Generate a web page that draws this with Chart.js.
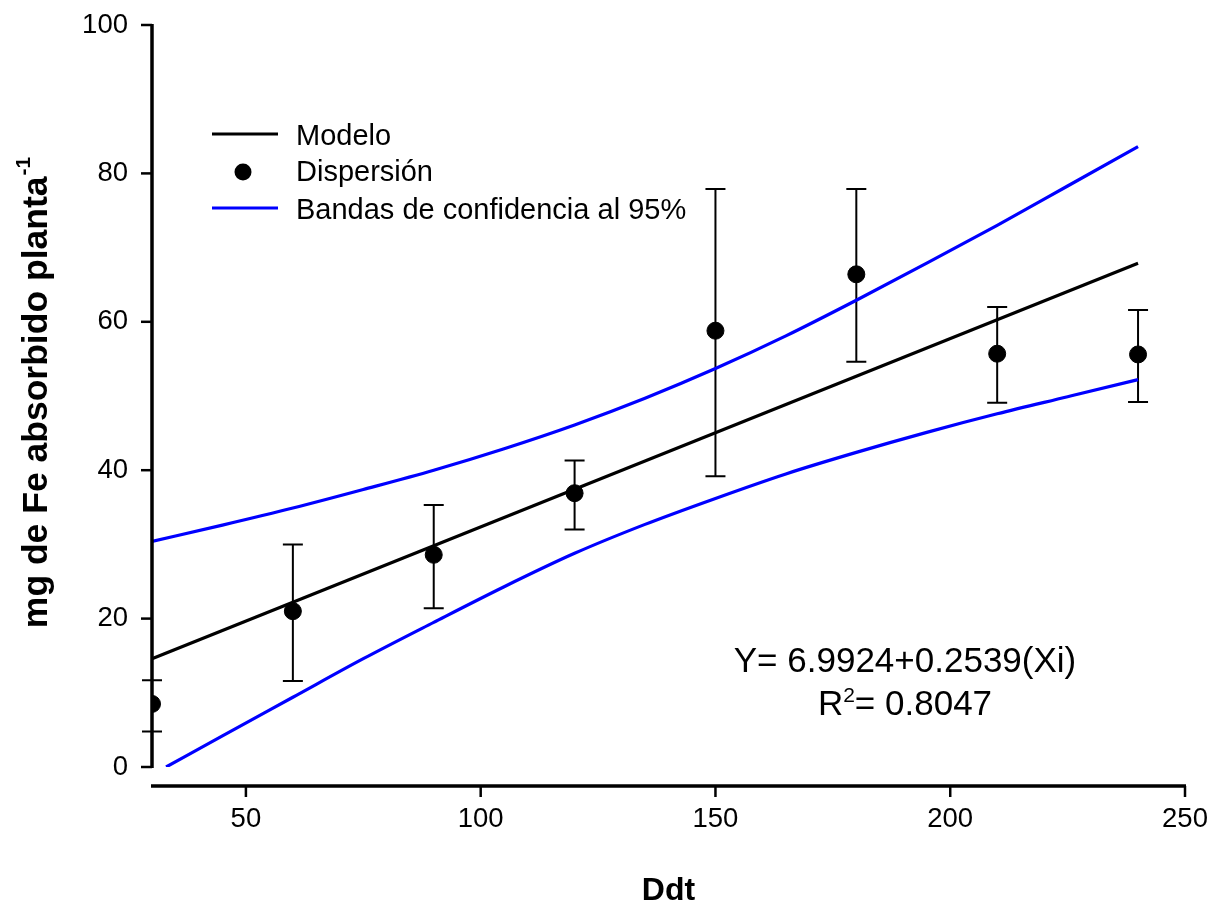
<!DOCTYPE html>
<html>
<head>
<meta charset="utf-8">
<script src="https://cdn.jsdelivr.net/npm/chart.js@4.4.1/dist/chart.umd.min.js"></script>
<style>
html, body { margin: 0; padding: 0; background: #fff; }
#wrap { width: 1213px; height: 906px; position: relative; }
</style>
</head>
<body>
<div id="wrap"><canvas id="chart-fe"></canvas></div>
<script>
// ==================== DATOS ====================
const ddt = [30, 60, 90, 120, 150, 180, 210, 240];
const feMedia = [8.5, 21.0, 28.6, 36.9, 58.8, 66.4, 55.7, 55.6];
const feErrSup = [11.7, 30.0, 35.3, 41.3, 77.9, 77.9, 62.0, 61.6];
const feErrInf = [4.8, 11.6, 21.4, 32.0, 39.2, 54.6, 49.1, 49.2];

const modeloX = [30, 240];
const modeloY = [14.6, 67.9];

const bandaSupX = [30, 45, 60, 75, 90, 105, 120, 135, 150, 165, 180, 195, 210, 225, 240];
const bandaSupY = [30.4, 32.6, 34.9, 37.4, 40.0, 42.9, 46.1, 49.7, 53.7, 58.1, 62.9, 67.9, 73.0, 78.3, 83.6];
const bandaInfX = [33, 45, 60, 75, 90, 105, 120, 135, 150, 165, 180, 195, 210, 225, 240];
const bandaInfY = [0, 4.2, 9.4, 14.6, 19.5, 24.3, 28.8, 32.7, 36.2, 39.5, 42.4, 45.1, 47.6, 49.9, 52.2];

const xTicks = [50, 100, 150, 200, 250];
const yTicks = [0, 20, 40, 60, 80, 100];

const FUENTE = "'Liberation Sans', Arial, sans-serif";
const toXY = (xs, ys) => xs.map((x, i) => ({ x: x, y: ys[i] }));

// ==================== EJES, BARRAS DE ERROR Y TEXTOS ====================
const dibujoExtra = {
    id: 'dibujoExtra',
    beforeDatasetsDraw(chart) {
        const ctx = chart.ctx;
        const sx = chart.scales.x, sy = chart.scales.y;
        ctx.save();
        ctx.strokeStyle = '#000';
        ctx.lineWidth = 2;
        ddt.forEach((x, i) => {
            const px = sx.getPixelForValue(x);
            const top = sy.getPixelForValue(feErrSup[i]);
            const bot = sy.getPixelForValue(feErrInf[i]);
            ctx.beginPath();
            ctx.moveTo(px, top); ctx.lineTo(px, bot);
            ctx.moveTo(px - 10, top); ctx.lineTo(px + 10, top);
            ctx.moveTo(px - 10, bot); ctx.lineTo(px + 10, bot);
            ctx.stroke();
        });
        ctx.restore();
    },
    afterDraw(chart) {
        const ctx = chart.ctx;
        const sx = chart.scales.x, sy = chart.scales.y;
        const area = chart.chartArea;
        ctx.save();
        ctx.strokeStyle = '#000';
        ctx.fillStyle = '#000';

        // eje Y
        const xEje = sx.getPixelForValue(30);
        ctx.lineWidth = 3.5;
        ctx.beginPath();
        ctx.moveTo(xEje, sy.getPixelForValue(100) - 1);
        ctx.lineTo(xEje, sy.getPixelForValue(0) + 1);
        ctx.stroke();
        ctx.lineWidth = 2.5;
        yTicks.forEach(v => {
            const py = sy.getPixelForValue(v);
            ctx.beginPath();
            ctx.moveTo(xEje - 11, py); ctx.lineTo(xEje, py);
            ctx.stroke();
        });

        // eje X
        const yEje = 786;
        ctx.lineWidth = 3.5;
        ctx.beginPath();
        ctx.moveTo(xEje - 1, yEje);
        ctx.lineTo(sx.getPixelForValue(250) + 1, yEje);
        ctx.stroke();
        ctx.lineWidth = 2.5;
        xTicks.forEach(v => {
            const px = sx.getPixelForValue(v);
            ctx.beginPath();
            ctx.moveTo(px, yEje); ctx.lineTo(px, yEje + 11);
            ctx.stroke();
        });

        // título eje X
        ctx.font = 'bold 32px ' + FUENTE;
        ctx.textAlign = 'center';
        ctx.textBaseline = 'alphabetic';
        ctx.fillText('Ddt', (area.left + area.right) / 2, 900);

        // título eje Y con superíndice
        ctx.save();
        ctx.translate(47, 393);
        ctx.rotate(-Math.PI / 2);
        ctx.textAlign = 'left';
        ctx.font = 'bold 35.5px ' + FUENTE;
        const principal = 'mg de Fe absorbido planta';
        const wP = ctx.measureText(principal).width;
        ctx.font = 'bold 21px ' + FUENTE;
        const wS = ctx.measureText('-1').width;
        const x0 = -(wP + wS) / 2;
        ctx.font = 'bold 35.5px ' + FUENTE;
        ctx.fillText(principal, x0, 0);
        ctx.font = 'bold 21px ' + FUENTE;
        ctx.fillText('-1', x0 + wP + 1, -17);
        ctx.restore();

        // leyenda
        ctx.lineWidth = 3;
        ctx.strokeStyle = '#000';
        ctx.beginPath(); ctx.moveTo(212, 134); ctx.lineTo(278, 134); ctx.stroke();
        ctx.beginPath(); ctx.arc(243, 172, 8.5, 0, Math.PI * 2); ctx.fill();
        ctx.strokeStyle = '#0000ff';
        ctx.beginPath(); ctx.moveTo(212, 208); ctx.lineTo(278, 208); ctx.stroke();
        ctx.font = '29px ' + FUENTE;
        ctx.textAlign = 'left';
        ctx.textBaseline = 'alphabetic';
        ctx.fillText('Modelo', 296, 145);
        ctx.fillText('Dispersión', 296, 181);
        ctx.fillText('Bandas de confidencia al 95%', 296, 219);

        // ecuación
        ctx.font = '35px ' + FUENTE;
        ctx.textAlign = 'center';
        ctx.fillText('Y= 6.9924+0.2539(Xi)', 905, 672);
        const r1 = 'R', r2 = '= 0.8047';
        const wR = ctx.measureText(r1).width;
        const wR2 = ctx.measureText(r2).width;
        ctx.font = '21px ' + FUENTE;
        const wSup = ctx.measureText('2').width;
        const ini = 905 - (wR + wSup + wR2) / 2;
        ctx.textAlign = 'left';
        ctx.font = '35px ' + FUENTE;
        ctx.fillText(r1, ini, 715);
        ctx.fillText(r2, ini + wR + wSup, 715);
        ctx.font = '21px ' + FUENTE;
        ctx.fillText('2', ini + wR, 702);
        ctx.restore();
    }
};

// sin relleno extra de las escalas: el área la fija layout.padding
function sinRelleno(s) {
    s.paddingTop = 0;
    s.paddingBottom = 0;
    s.paddingLeft = 0;
    s.paddingRight = 0;
}

// ==================== GRÁFICO ====================
const ctx = document.getElementById('chart-fe').getContext('2d');
const feChart = new Chart(ctx, {
    type: 'scatter',
    data: {
        datasets: [
            {
                label: 'Bandas de confidencia al 95%',
                data: toXY(bandaSupX, bandaSupY),
                showLine: true,
                borderColor: '#0000ff',
                borderWidth: 3.2,
                pointRadius: 0,
                cubicInterpolationMode: 'monotone',
                fill: false
            },
            {
                label: 'Bandas inferior',
                data: toXY(bandaInfX, bandaInfY),
                showLine: true,
                borderColor: '#0000ff',
                borderWidth: 3.2,
                pointRadius: 0,
                cubicInterpolationMode: 'monotone',
                fill: false
            },
            {
                label: 'Modelo',
                data: toXY(modeloX, modeloY),
                showLine: true,
                borderColor: '#000',
                borderWidth: 3.2,
                pointRadius: 0,
                fill: false
            },
            {
                label: 'Dispersión',
                data: toXY(ddt, feMedia),
                showLine: false,
                backgroundColor: '#000',
                borderColor: '#000',
                pointRadius: 8.5,
                pointHoverRadius: 8.5
            }
        ]
    },
    options: {
        responsive: true,
        maintainAspectRatio: false,
        animation: false,
        layout: { padding: { top: 25, right: 28, left: 0, bottom: 0 } },
        plugins: {
            legend: { display: false },
            tooltip: { enabled: false },
            title: { display: false }
        },
        scales: {
            x: {
                type: 'linear',
                min: 30,
                max: 250,
                grid: { display: false, drawTicks: false },
                border: { display: false },
                afterBuildTicks: s => { s.ticks = xTicks.map(v => ({ value: v })); },
                afterFit: s => { s.height = 139; sinRelleno(s); },
                ticks: { color: '#000', padding: 36, font: { family: FUENTE, size: 27.5 } }
            },
            y: {
                type: 'linear',
                min: 0,
                max: 100,
                grid: { display: false, drawTicks: false },
                border: { display: false },
                afterBuildTicks: s => { s.ticks = yTicks.map(v => ({ value: v })); },
                afterFit: s => { s.width = 152; sinRelleno(s); },
                ticks: { color: '#000', padding: 24, font: { family: FUENTE, size: 27.5 } }
            }
        }
    },
    plugins: [dibujoExtra]
});
</script>
</body>
</html>
